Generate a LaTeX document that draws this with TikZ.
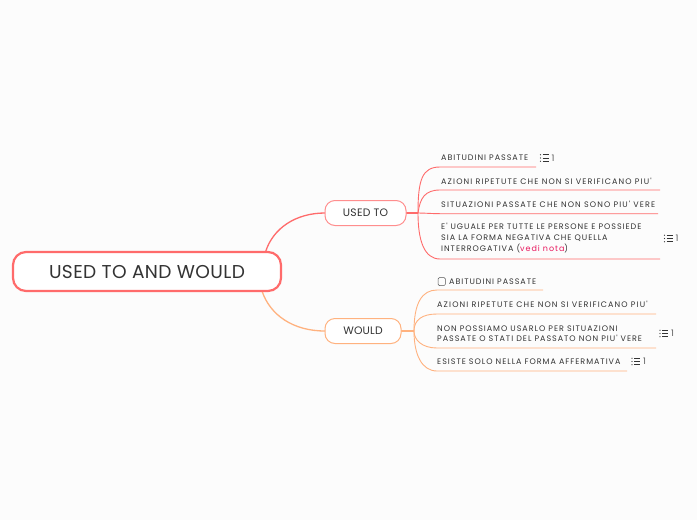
\documentclass[tikz,border=0pt]{standalone}
\usepackage{fontspec}
\setmainfont{Poppins}
\newfontfamily\itemfont[LetterSpace=12]{Poppins}
\newfontfamily\itemwide[LetterSpace=14]{Poppins}
\newfontfamily\subfont[LetterSpace=2]{Poppins}
\definecolor{txt}{HTML}{333333}
\definecolor{red1}{HTML}{FF6B6B}
\definecolor{red2}{HTML}{FF8E8E}
\definecolor{org}{HTML}{FFB27F}
\definecolor{pinkt}{HTML}{E8175D}
\tikzset{
 x=1pt,y=-1pt,
 mainbox/.style={draw=red1,line width=2.2pt,rounded corners=13pt,fill=white,minimum width=268pt,minimum height=39pt,inner sep=0pt,text=txt,font=\subfont\fontsize{18.6}{22}\selectfont},
 subbox/.style={line width=1pt,rounded corners=10pt,fill=white,minimum height=25pt,inner sep=0pt,text=txt,font=\subfont\fontsize{10.8}{12}\selectfont},
 item/.style={anchor=west,inner sep=0pt,align=left,text=txt,font=\itemfont\fontsize{8}{10.6}\selectfont},
 itemw/.style={item,font=\itemwide\fontsize{8}{10.6}\selectfont},
 redl/.style={draw=red1,line width=.9pt},
 orgl/.style={draw=org,line width=.9pt},
 cnt/.style={anchor=west,inner sep=0pt,text=txt!80,font=\fontsize{9}{10}\selectfont},
}
\newcommand{\listicon}[3]{%
 \fill[txt] (#1,#2-3.2) circle (.6) (#1,#2) circle (.6) (#1,#2+3.2) circle (.6);
 \draw[txt,line width=.7pt] (#1+2,#2-3.2) -- ++(6,0) (#1+2,#2) -- ++(6,0) (#1+2,#2+3.2) -- ++(6,0);
 \node[cnt] (#3) at (#1+11,#2) {1};}
\begin{document}
\begin{tikzpicture}
\useasboundingbox[fill=white!99!black] (0,0) rectangle (697,520);
% anchors of connectors
\coordinate (ju) at (418,213);
\coordinate (jw) at (414,331);
\coordinate (u1s) at (440,167); \coordinate (u1e) at (536,167);
\coordinate (u2s) at (440,190); \coordinate (u2e) at (660,190);
\coordinate (u3s) at (440,213.7); \coordinate (u3e) at (658,213.7);
\coordinate (u4s) at (440,259); \coordinate (u4e) at (660,259);
\coordinate (w1s) at (437,290); \coordinate (w1e) at (543,290);
\coordinate (w2s) at (437,314); \coordinate (w2e) at (656,314);
\coordinate (w3s) at (437,348); \coordinate (w3e) at (656,348);
\coordinate (w4s) at (437,371); \coordinate (w4e) at (627,371);
\coordinate (mu) at (265.5,252);
\coordinate (mw) at (262,291);
% curves
\draw[draw=red1,line width=1.3pt] (mu) .. controls (273,228) and (296,213) .. (325,213);
\draw[draw=org,line width=1.3pt] (mw) .. controls (270,315) and (293,331) .. (325,331);
\draw[draw=red1,line width=1.2pt] (406,213) -- (ju);
\draw[draw=org,line width=1.2pt] (401,331) -- (jw);
\draw[redl] (ju) .. controls (418,180) and (422,167) .. (u1s) -- (u1e);
\draw[redl] (ju) .. controls (420,198) and (425,190) .. (u2s) -- (u2e);
\draw[redl] (ju) .. controls (425,213) and (432,213.7) .. (u3s) -- (u3e);
\draw[redl] (ju) .. controls (418,240) and (424,259) .. (u4s) -- (u4e);
\draw[orgl] (jw) .. controls (414,303) and (422,290) .. (w1s) -- (w1e);
\draw[orgl] (jw) .. controls (414,320) and (422,314) .. (w2s) -- (w2e);
\draw[orgl] (jw) .. controls (414,340) and (422,348) .. (w3s) -- (w3e);
\draw[orgl] (jw) .. controls (414,355) and (422,371) .. (w4s) -- (w4e);
% boxes
\node[mainbox] (main) at (147,271.5) {USED TO AND WOULD};
\node[subbox,draw=red2,minimum width=81pt] (used) at (365.5,213) {USED TO};
\node[subbox,draw=org,minimum width=76pt] (would) at (363,331) {WOULD};
% items
\node[item] (t1) at (441,158) {ABITUDINI PASSATE};
\node[itemw] (t2) at (441,181) {AZIONI RIPETUTE CHE NON SI VERIFICANO PIU'};
\node[itemw] (t3) at (441,204) {SITUAZIONI PASSATE CHE NON SONO PIU' VERE};
\node[item] (t4) at (441,238) {E' UGUALE PER TUTTE LE PERSONE E POSSIEDE\\SIA LA FORMA NEGATIVA CHE QUELLA\\INTERROGATIVA ({\color{pinkt}vedi nota})};
\node[item] (v1) at (449,282) {ABITUDINI PASSATE};
\draw[txt!85,line width=.5pt,rounded corners=1.2pt] (438,277.7) rectangle (445.3,285.5);
\node[itemw] (v2) at (437,304.5) {AZIONI RIPETUTE CHE NON SI VERIFICANO PIU'};
\node[item] (v3) at (437,333.5) {NON POSSIAMO USARLO PER SITUAZIONI\\PASSATE O STATI DEL PASSATO NON PIU' VERE};
\node[item] (v4) at (437,362) {ESISTE SOLO NELLA FORMA AFFERMATIVA};
% counters
\listicon{540.5}{158}{c1}
\listicon{664.5}{238.5}{c2}
\listicon{660}{333.5}{c3}
\listicon{632}{361.5}{c4}
\end{tikzpicture}
\end{document}
